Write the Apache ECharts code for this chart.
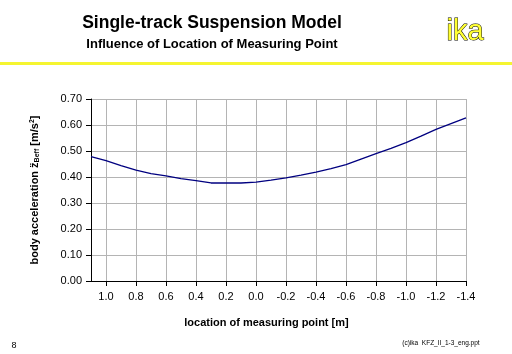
<!DOCTYPE html>
<html><head><meta charset="utf-8">
<script src="https://cdn.jsdelivr.net/npm/echarts@6/dist/echarts.min.js"></script>
<style>html,body{margin:0;padding:0;background:#fff}#c{width:512px;height:354px}</style>
</head><body><div id="c"></div>
<script>
const positions = [1.1,1.0,0.9,0.8,0.7,0.6,0.5,0.4,0.3,0.2,0.1,0.0,-0.1,-0.2,-0.3,-0.4,-0.5,-0.6,-0.7,-0.8,-0.9,-1.0,-1.1,-1.2,-1.3,-1.4];
const accel = [0.478,0.463,0.444,0.426,0.413,0.404,0.394,0.386,0.377,0.377,0.377,0.380,0.388,0.397,0.407,0.419,0.432,0.448,0.469,0.490,0.510,0.532,0.557,0.583,0.605,0.627];
const yTicks = [0,0.1,0.2,0.3,0.4,0.5,0.6,0.7];
const title = "Single-track Suspension Model";
const subtitle = "Influence of Location of Measuring Point";
const xName = "location of measuring point [m]";

const F = '"Liberation Sans", Arial, sans-serif';
const chart = echarts.init(document.getElementById('c'), null, {renderer:'canvas'});
chart.setOption({
  animation:false,
  backgroundColor:'#fff',
  grid:{left:91,right:46,top:99,bottom:73},
  graphic:[
    {type:'text',x:212,y:23,style:{text:title,font:'bold 17.5px '+F,fill:'#000',textAlign:'center',textVerticalAlign:'middle'}},
    {type:'text',x:212,y:44,style:{text:subtitle,font:'bold 13px '+F,fill:'#000',textAlign:'center',textVerticalAlign:'middle'}},
    {type:'text',x:465,y:32,style:{text:'ika',font:'29px '+F,fill:'#ffff33',stroke:'#000',lineWidth:1,textAlign:'center',textVerticalAlign:'middle'}},
    {type:'rect',shape:{x:0,y:62,width:512,height:3},style:{fill:'#f5f530'}},
    {type:'text',x:14,y:346,style:{text:'8',font:'9px '+F,fill:'#000',textAlign:'center',textVerticalAlign:'middle'}},
    {type:'text',x:441,y:343,style:{text:'(c)ika  KFZ_II_1-3_eng.ppt',font:'6.5px '+F,fill:'#000',textAlign:'center',textVerticalAlign:'middle'}}
  ],
  xAxis:{
    type:'value', inverse:true, min:-1.4, max:1.1, interval:0.2,
    name:xName, nameLocation:'middle', nameGap:36,
    nameTextStyle:{fontFamily:F,fontWeight:'bold',fontSize:11,color:'#000',padding:[0,24,0,0]},
    axisLine:{show:true,onZero:false,lineStyle:{color:'#000',width:1}},
    axisTick:{show:true,length:5,lineStyle:{color:'#000'}},
    axisLabel:{fontFamily:F,fontSize:11,color:'#000',margin:10,showMaxLabel:false,
      formatter:v=>{const r=Math.round(v*10)/10; return Math.abs(r-1.1)<1e-6?'':r.toFixed(1);}},
    splitLine:{show:true,lineStyle:{color:'#b4b4b4',width:1}}
  },
  yAxis:{
    type:'value', min:0, max:0.7, interval:0.1,
    name:'{n|body acceleration z\u0308}{s|Beff}{n| [m/s}{p|2}{n|]}',
    nameLocation:'middle', nameGap:50, nameRotate:90,
    nameTextStyle:{fontFamily:F,fontWeight:'bold',fontSize:11,color:'#000',
      rich:{
        n:{fontFamily:F,fontWeight:'bold',fontSize:11,color:'#000'},
        s:{fontFamily:F,fontWeight:'bold',fontSize:7,color:'#000',padding:[5,0,0,0]},
        p:{fontFamily:F,fontWeight:'bold',fontSize:7,color:'#000',padding:[0,0,5,0]}
      }},
    axisLine:{show:true,onZero:false,lineStyle:{color:'#000',width:1}},
    axisTick:{show:true,length:5,lineStyle:{color:'#000'}},
    axisLabel:{fontFamily:F,fontSize:11,color:'#000',margin:9,formatter:v=>v.toFixed(2)},
    splitLine:{show:true,lineStyle:{color:'#b4b4b4',width:1}}
  },
  series:[{
    type:'line', data:positions.map((p,i)=>[p,accel[i]]),
    showSymbol:false, smooth:false,
    lineStyle:{color:'#000080',width:1.3}
  }]
});
</script></body></html>
